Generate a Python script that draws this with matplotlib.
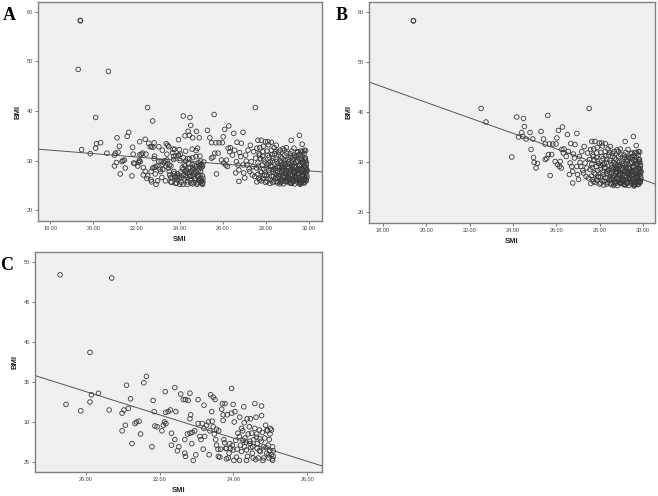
import numpy as np
import matplotlib
matplotlib.use("Agg")
import matplotlib.pyplot as plt

# group C (low SMI) points
c_smi = [19.30, 20.70, 20.11, 19.46, 19.86, 20.15, 20.11, 20.34, 20.63, 20.98,
         21.03, 21.15, 21.10, 21.21, 20.98, 21.07, 21.25, 21.33, 21.37, 21.44,
         21.48, 21.57, 21.64, 21.79, 21.82, 21.85, 21.87, 21.93, 22.06, 22.10,
         22.13, 22.17, 22.15, 22.16, 22.23, 22.29, 22.32, 22.32, 22.41, 22.41,
         22.44, 22.48, 22.52, 22.57, 22.64, 22.68, 22.68, 22.70, 22.70, 22.77,
         22.82, 22.84, 22.82, 22.75, 22.82, 22.87, 22.88, 22.91, 22.95, 22.98,
         23.04, 23.04, 23.09, 23.12, 23.15, 23.18, 23.20, 23.20, 23.22, 23.27,
         23.32, 23.34, 23.36, 23.38, 23.41, 23.42, 23.45, 23.50, 23.45, 23.48,
         23.52, 23.54, 23.54, 23.60, 23.59, 23.63, 23.65, 23.68, 23.70, 23.72,
         23.72, 23.74, 23.77, 23.79, 23.81, 23.81, 23.83, 23.86, 23.90, 23.92,
         23.95, 23.95, 23.97, 23.99, 23.99, 24.01, 24.02, 24.04, 24.06, 24.10,
         24.16, 24.16, 24.17, 24.19, 24.22, 24.25, 24.26, 24.28, 24.29, 24.31,
         24.34, 24.35, 24.35, 24.37, 24.40, 24.43, 24.44, 24.46, 24.47, 24.49,
         24.51, 24.53, 24.55, 24.58, 24.58, 24.61, 24.63, 24.64, 24.65, 24.67,
         24.70, 24.72, 24.73, 24.76, 24.76, 24.78, 24.81, 24.82, 24.85, 24.87,
         24.90, 24.91, 24.94, 24.96, 24.97, 24.99, 25.00, 25.03, 25.03, 25.06,
         25.06, 25.08, 25.08,
         24.08, 24.22, 24.38, 24.52, 24.60, 24.70, 24.80, 24.88, 24.95, 25.05,
         24.45, 24.62, 24.75, 24.92, 24.30, 23.88, 23.76, 23.58, 24.12, 24.98]
c_bmi = [48.4, 48.0, 38.7, 32.2, 31.4, 33.4, 32.5, 33.6, 31.5, 31.1,
         31.5, 31.7, 34.6, 32.9, 28.9, 29.6, 27.3, 29.8, 30.0, 30.1,
         28.5, 34.9, 35.7, 26.9, 32.7, 31.3, 29.5, 29.4, 28.9, 29.6,
         30.0, 29.8, 33.8, 31.2, 31.3, 31.5, 28.6, 27.1, 27.8, 34.3,
         31.3, 26.4, 26.9, 33.5, 32.8, 27.8, 26.1, 25.7, 32.8, 32.7,
         33.6, 30.9, 30.4, 28.5, 28.6, 27.3, 28.7, 25.2, 28.9, 25.9,
         32.8, 29.8, 28.2, 27.8, 29.8, 26.6, 32.1, 29.2, 28.2, 29.6,
         30.0, 25.9, 28.9, 33.4, 31.3, 30.1, 33.1, 32.8, 29.4, 28.5,
         27.8, 27.1, 29.1, 28.9, 25.7, 25.6, 26.6, 31.6, 32.3, 30.9,
         30.2, 27.8, 32.3, 26.7, 26.7, 25.4, 30.9, 25.5, 27.3, 26.7,
         34.2, 31.1, 27.1, 32.2, 26.5, 25.2, 30.0, 31.3, 27.7, 26.6,
         28.2, 25.2, 30.6, 27.1, 29.2, 28.9, 27.7, 31.9, 29.9, 28.0,
         27.5, 26.5, 25.2, 30.4, 28.5, 29.4, 27.6, 30.4, 26.8, 28.6,
         26.1, 25.5, 27.8, 32.3, 29.2, 30.6, 28.5, 26.7, 27.3, 25.5,
         29.0, 27.9, 26.3, 32.0, 30.8, 28.7, 26.9, 25.5, 28.0, 29.6,
         26.1, 29.0, 27.1, 25.5, 27.8, 28.5, 29.2, 29.0, 25.9, 26.9,
         25.2, 26.4, 25.7,
         25.6, 26.3, 25.7, 26.9, 25.3, 26.4, 25.2, 26.8, 25.9, 25.4,
         27.3, 28.1, 27.6, 28.9, 26.9, 26.1, 27.4, 26.6, 28.6, 26.4]

# group B (high SMI) points
b_smi = [19.40, 19.40, 22.52, 22.75, 23.94, 24.17, 24.25, 24.40, 24.45, 24.48,
         24.52, 24.60, 24.78, 24.83, 24.91, 24.94, 24.97, 25.06, 25.12, 25.29,
         25.40, 25.48, 25.48, 25.55, 25.60, 25.63, 25.68, 25.71, 25.78, 25.83,
         25.94, 25.98, 26.02, 26.05, 26.09, 26.14, 26.17, 26.22, 26.25, 26.28,
         26.32, 26.35, 26.45, 26.51, 26.55, 26.60, 26.63, 26.66, 26.71, 26.75,
         26.75, 26.78, 26.83, 26.86, 26.94, 26.94, 26.97, 27.02, 27.06, 27.09,
         27.12, 27.17, 27.22, 27.25, 27.28, 27.32, 27.37, 27.40, 27.43, 27.48,
         27.51, 27.52, 27.55, 27.58, 27.63, 27.63, 27.68, 27.71, 27.74, 27.78,
         27.78, 27.83, 27.86, 27.89, 27.94, 27.98, 28.02, 28.05, 28.09, 28.09,
         28.14, 28.17, 28.20, 28.25, 28.25, 28.29, 28.32, 28.35, 28.40, 28.45,
         28.48, 28.48, 28.51, 28.55, 28.60, 28.63, 28.66, 28.71, 28.71, 28.75,
         28.78, 28.82, 28.86, 28.86, 28.91, 28.94, 28.97, 29.02, 29.06, 29.09,
         29.12, 29.17, 29.17, 29.22, 29.25, 29.28, 29.32, 29.35, 29.40, 29.43,
         29.48, 29.48, 29.52, 29.55, 29.55, 29.58, 29.63, 29.63, 29.68, 29.71,
         29.71, 29.74, 29.78, 29.78, 29.83, 29.83, 29.86, 29.86, 29.89,
         27.62, 27.66, 27.70, 27.75, 27.80, 27.85, 27.90, 27.95, 27.98, 27.72, 27.88,
         28.03, 28.06, 28.10, 28.12, 28.15, 28.18, 28.22, 28.26, 28.30, 28.33,
         28.37, 28.38, 28.12, 28.28,
         28.42, 28.44, 28.47, 28.50, 28.53, 28.56, 28.58, 28.61, 28.64, 28.67,
         28.69, 28.72, 28.74, 28.77, 28.79,
         28.81, 28.84, 28.87, 28.89, 28.92, 28.95, 28.97, 29.00, 29.02, 29.05,
         29.07, 29.10, 29.12, 29.15, 29.18, 29.20, 29.22,
         29.24, 29.26, 29.28, 29.30, 29.32, 29.34, 29.36, 29.38, 29.40, 29.42,
         29.44, 29.46, 29.48, 29.50, 29.52, 29.54, 29.56, 29.58, 29.30, 29.45,
         29.60, 29.61, 29.63, 29.65, 29.66, 29.68, 29.70, 29.71, 29.73, 29.74,
         29.76, 29.77, 29.79, 29.80, 29.82, 29.83, 29.85, 29.86, 29.88, 29.89,
         29.90, 29.84, 29.62,
         28.05, 28.20, 28.35, 28.55, 28.65, 28.85, 29.05, 29.15, 29.25, 29.35,
         29.45, 29.55, 29.65, 29.75, 29.85, 29.90, 29.72, 29.52, 29.32, 29.12,
         28.92, 28.72, 28.52, 28.32, 27.92, 27.58, 27.68, 27.85, 28.45, 28.95,
         29.68,
         28.58, 28.68, 28.78, 28.88, 28.98, 29.08, 29.18, 29.28, 29.38, 29.48,
         29.58, 29.68, 29.78, 29.88, 29.64, 29.74, 29.84, 29.44, 29.54, 29.34,
         29.24, 29.14, 29.04, 28.94, 28.84, 28.74, 28.64, 29.81, 29.87, 29.77,
         29.67, 29.57, 29.47, 29.37, 29.27, 29.17, 29.07, 28.97, 28.87, 28.77]
b_bmi = [58.2, 58.3, 40.7, 38.0, 31.0, 39.0, 35.0, 35.9, 35.1, 38.7,
         37.1, 34.6, 35.9, 32.5, 34.6, 30.9, 29.9, 28.8, 29.7, 36.1,
         34.6, 30.5, 33.6, 30.7, 39.3, 31.5, 33.6, 27.3, 31.5, 33.6,
         30.1, 33.6, 34.8, 29.5, 36.3, 29.1, 30.1, 28.8, 32.5, 37.0,
         31.8, 32.6, 31.1, 35.5, 32.1, 27.5, 29.8, 33.7, 29.1, 28.1,
         25.8, 31.6, 30.8, 33.5, 35.7, 29.1, 27.5, 26.5, 31.1, 29.9,
         29.1, 32.1, 28.3, 27.8, 33.1, 29.8, 27.1, 28.8, 31.8, 26.8,
         40.7, 30.5, 28.5, 32.5, 34.1, 29.5, 26.5, 31.1, 27.8, 34.1,
         25.9, 29.1, 31.8, 30.2, 27.1, 33.8, 28.5, 25.8, 31.1, 33.8,
         29.5, 27.5, 26.1, 32.1, 33.7, 28.8, 30.5, 26.8, 31.4, 27.9,
         33.1, 25.8, 29.8, 28.8, 31.1, 27.3, 32.1, 26.1, 29.5, 30.5,
         28.1, 26.8, 31.1, 32.1, 29.1, 25.8, 27.5, 30.2, 28.5, 26.5,
         31.4, 34.1, 29.5, 27.1, 30.6, 25.8, 28.8, 28.1, 29.8, 26.5,
         31.1, 31.8, 27.5, 29.1, 35.1, 25.9, 30.5, 28.1, 26.8, 31.8,
         29.5, 25.5, 28.8, 32.1, 27.5, 30.5, 26.1, 29.1, 28.1,
         27.2, 28.9, 26.1, 30.4, 27.6, 26.4, 28.3, 29.7, 25.6, 32.6, 32.9,
         27.0, 29.3, 26.3, 28.0, 30.7, 25.4, 28.9, 26.9, 29.9, 27.7,
         25.9, 32.6, 33.2, 31.2,
         28.4, 26.4, 30.3, 27.1, 25.5, 29.4, 31.7, 26.8, 28.7, 25.9,
         30.8, 27.8, 26.2, 29.1, 32.4,
         25.3, 28.0, 26.6, 30.0, 27.3, 31.5, 25.7, 28.8, 26.9, 29.7,
         27.5, 25.5, 30.6, 28.2, 26.3, 31.9, 29.0,
         25.9, 27.8, 30.2, 26.6, 29.5, 25.3, 27.0, 28.6, 30.8, 26.1,
         28.0, 29.9, 25.6, 27.3, 30.4, 26.4, 28.9, 31.3, 32.5, 31.6,
         25.4, 27.7, 29.3, 26.2, 28.4, 30.9, 25.8, 27.2, 29.8, 26.9,
         28.2, 31.4, 25.5, 27.9, 30.1, 26.4, 28.7, 25.9, 29.4, 27.1,
         26.6, 32.0, 31.9,
         31.9, 29.7, 28.2, 27.6, 29.9, 29.3, 26.2, 30.9, 28.4, 26.8,
         27.4, 25.9, 30.2, 27.5, 29.9, 28.1, 26.0, 28.3, 30.9, 27.2,
         25.9, 28.5, 26.5, 25.6, 27.0, 25.7, 31.4, 30.9, 31.9, 32.6,
         33.3,
         26.9, 25.6, 28.6, 27.4, 26.0, 29.2, 25.4, 27.9, 26.7, 28.3,
         25.2, 29.6, 26.3, 27.7, 25.5, 26.8, 28.5, 26.1, 29.0, 27.5,
         25.7, 28.1, 26.4, 27.8, 29.5, 26.6, 25.3, 30.5, 26.2, 28.8,
         27.0, 25.6, 28.0, 26.5, 27.6, 25.5, 28.7, 26.3, 27.4, 25.8]

# fit lines (intercept, slope)
line_a = (38.40, -0.3495)
line_b = (72.80, -1.545)
line_c = (62.84, -1.452)

a_smi = b_smi + c_smi
a_bmi = b_bmi + c_bmi

fig = plt.figure(figsize=(6.58, 4.96), dpi=100)
fig.patch.set_facecolor("white")

panels = [
    ("A", [0.0578, 0.5544, 0.4316, 0.4415], a_smi, a_bmi, line_a,
     (17.44, 30.6), (17.8, 62.0), [18, 20, 22, 24, 26, 28, 30], [20, 30, 40, 50, 60]),
    ("B", [0.5608, 0.5504, 0.4347, 0.4456], b_smi, b_bmi, line_b,
     (17.35, 30.55), (17.8, 62.0), [18, 20, 22, 24, 26, 28, 30], [20, 30, 40, 50, 60]),
    ("C", [0.0532, 0.0484, 0.4362, 0.4435], c_smi, c_bmi, line_c,
     (18.62, 26.4), (23.75, 51.25), [20, 22, 24, 26], [25, 30, 35, 40, 45, 50]),
]
letter_pos = {"A": (9, 15), "B": (342, 16), "C": (7, 266)}

for name, rect, xs, ys, line, xlim, ylim, xt, yt in panels:
    ax = fig.add_axes(rect)
    ax.set_facecolor("#f0f0f0")
    ax.scatter(xs, ys, s=11, facecolors="none", edgecolors="#3a3a3a", linewidths=0.6, zorder=3)
    lx = np.array(xlim)
    ax.plot(lx, line[0] + line[1] * lx, color="#555555", lw=0.7, zorder=2)
    ax.set_xlim(*xlim)
    ax.set_ylim(*ylim)
    ax.set_xticks(xt)
    ax.set_xticklabels(["%.2f" % v for v in xt])
    ax.set_yticks(yt)
    ax.set_yticklabels([str(v) for v in yt])
    ax.tick_params(length=2, width=0.6, color="#666666", labelsize=4,
                   labelcolor="#444444", pad=1.5, labelfontfamily="Liberation Sans")
    for sp in ax.spines.values():
        sp.set_color("#808080")
        sp.set_linewidth(1.0)
    ax.set_xlabel("SMI", fontsize=5.5, fontweight="bold", family="Liberation Sans",
                  color="#222222", labelpad=4)
    ax.set_ylabel("BMI", fontsize=5.5, fontweight="bold", family="Liberation Sans",
                  color="#222222", labelpad=4)
    px, py = letter_pos[name]
    fig.text(px / 658, 1 - py / 496, name, fontsize=13, fontweight="bold",
             family="Liberation Serif", ha="center", va="center")

fig.savefig("out.png", dpi=100)
